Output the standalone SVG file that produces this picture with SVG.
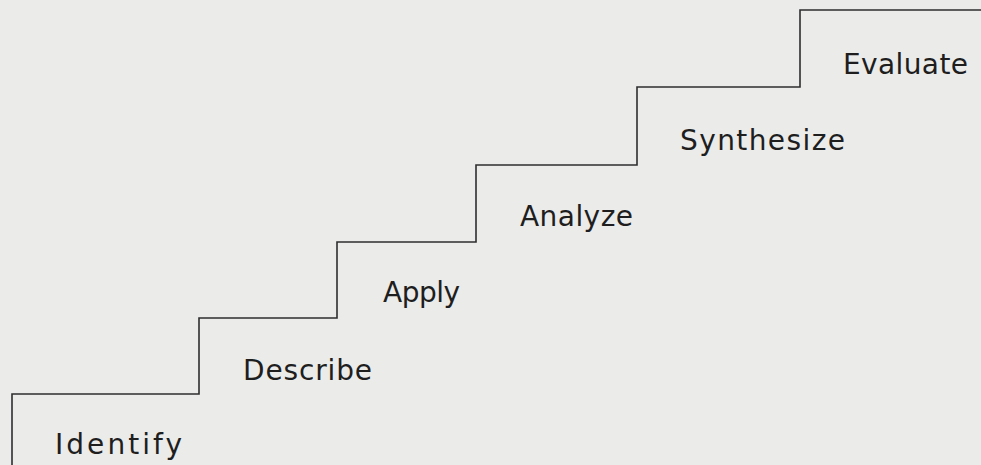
<svg xmlns="http://www.w3.org/2000/svg" width="981" height="465" viewBox="0 0 981 465">
<style>
.bg{fill:#ebebea}
.stair{fill:none;stroke:#2e2e2e;stroke-width:1.6}
.lbl{font-family:"DejaVu Sans","Liberation Sans",sans-serif;font-size:28px;fill:#1e1e1e}
</style>
<rect class="bg" x="0" y="0" width="981" height="465"/>
<g id="connectors">
<path class="stair" d="M12,465 V394 H199 V318 H337 V242 H476 V165 H637 V87 H800 V10 H981"/>
</g>
<g id="identify"><text class="lbl" x="55" y="454" textLength="127" lengthAdjust="spacing">Identify</text></g>
<g id="describe"><text class="lbl" x="243" y="380" textLength="129" lengthAdjust="spacing">Describe</text></g>
<g id="apply"><text class="lbl" x="383" y="302" textLength="77" lengthAdjust="spacing">Apply</text></g>
<g id="analyze"><text class="lbl" x="520" y="226" textLength="113" lengthAdjust="spacing">Analyze</text></g>
<g id="synthesize"><text class="lbl" x="680" y="150" textLength="165" lengthAdjust="spacing">Synthesize</text></g>
<g id="evaluate"><text class="lbl" x="843" y="74" textLength="125" lengthAdjust="spacing">Evaluate</text></g>
</svg>
